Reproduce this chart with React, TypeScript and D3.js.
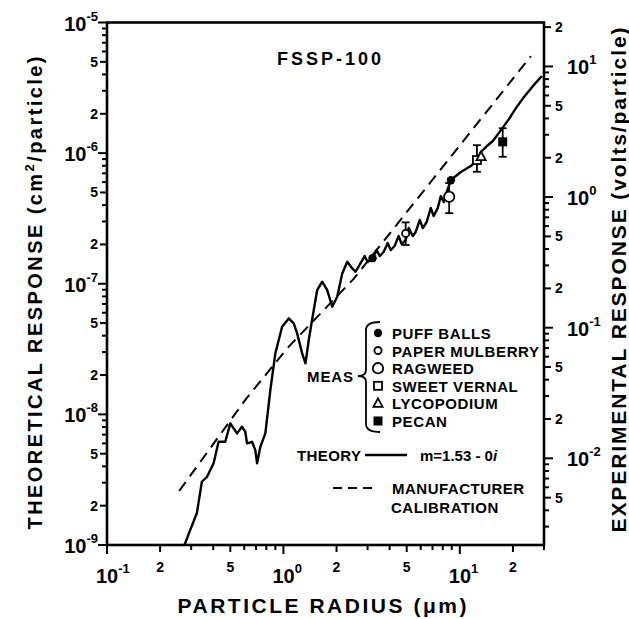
import React from 'react';
import * as d3 from 'd3';

// ---------- data ----------
const xDomain = [0.1, 30];
const leftDomain = [1e-9, 1e-5];
const rightDomain = [0.00217, 21.7];

const theoryRadius = [0.275,0.296,0.323,0.345,0.369,0.402,0.429,0.468,0.500,0.522,
  0.546,0.582,0.608,0.622,0.664,0.693,0.709,0.740,0.790,0.843,
  0.900,0.983,1.072,1.144,1.196,1.277,1.334,1.392,1.486,1.554,
  1.659,1.772,1.891,2.018,2.155,2.301,2.457,2.565,2.738,2.886,
  3.0,3.204,3.376,3.513,3.70,3.90,4.055,4.27,4.50,4.68,
  4.93,5.13,5.41,5.62,5.93,6.17,6.49,6.84,7.11,7.50,
  7.80,8.11,8.43,8.89,10.13,11.55,12.49,13.16,14.23,15.40,
  17.10,18.97,20.8,23.1,26.0,29.2];
const theoryResponse = [1.0e-9,1.30e-9,1.75e-9,3.05e-9,3.33e-9,4.22e-9,6.17e-9,6.17e-9,8.53e-9,7.81e-9,
  7.15e-9,8.04e-9,7.36e-9,6.0e-9,6.17e-9,5.33e-9,4.22e-9,5.65e-9,7.15e-9,1.53e-8,
  2.93e-8,4.69e-8,5.43e-8,4.98e-8,4.17e-8,2.93e-8,2.46e-8,3.71e-8,6.29e-8,8.95e-8,
  1.036e-7,8.95e-8,6.67e-8,7.95e-8,1.20e-7,1.474e-7,1.31e-7,1.236e-7,1.44e-7,1.63e-7,
  1.466e-7,1.574e-7,1.81e-7,1.63e-7,1.75e-7,2.05e-7,1.81e-7,1.945e-7,2.32e-7,2.01e-7,
  2.16e-7,2.67e-7,2.32e-7,2.49e-7,3.08e-7,2.67e-7,2.97e-7,3.80e-7,3.30e-7,3.80e-7,
  4.69e-7,4.22e-7,5.04e-7,6.22e-7,7.17e-7,7.96e-7,8.85e-7,1.02e-6,1.133e-6,1.238e-6,
  1.50e-6,1.82e-6,2.21e-6,2.69e-6,3.27e-6,3.89e-6];

const calibRadius = [0.2565, 0.608, 1.054, 2.50, 25.3];
const calibResponse = [2.59e-9, 1.29e-8, 3.22e-8, 1.09e-7, 5.54e-6];

const puffRadius = [3.2, 8.9];
const puffValue = [1.57e-7, 6.2e-7];
const mulberryRadius = [4.93];
const mulberryValue = [2.43e-7];
const mulberryLow = [1.98e-7];
const mulberryHigh = [2.95e-7];
const ragweedRadius = [8.7];
const ragweedValue = [4.63e-7];
const ragweedLow = [3.47e-7];
const ragweedHigh = [5.9e-7];
const vernalRadius = [12.5];
const vernalValue = [8.85e-7];
const vernalLow = [7.2e-7];
const vernalHigh = [1.15e-6];
const lycoRadius = [13.2];
const lycoValue = [9.4e-7];
const pecanRadius = [17.5];
const pecanValue = [1.22e-6];
const pecanLow = [9.37e-7];
const pecanHigh = [1.55e-6];

const xLabels: [number, string, string][] = [
  [0.1, '10', '-1'], [0.2, '2', ''], [0.5, '5', ''], [1, '10', '0'], [2, '2', ''], [5, '5', ''], [10, '10', '1'], [20, '2', '']];
const leftLabels: [number, string, string][] = [
  [1e-5, '10', '-5'], [5e-6, '5', ''], [2e-6, '2', ''], [1e-6, '10', '-6'], [5e-7, '5', ''], [2e-7, '2', ''],
  [1e-7, '10', '-7'], [5e-8, '5', ''], [2e-8, '2', ''], [1e-8, '10', '-8'], [5e-9, '5', ''], [2e-9, '2', ''], [1e-9, '10', '-9']];
const rightLabels: [number, string, string][] = [
  [20, '2', ''], [10, '10', '1'], [5, '5', ''], [2, '2', ''], [1, '10', '0'], [0.5, '5', ''], [0.2, '2', ''],
  [0.1, '10', '-1'], [0.05, '5', ''], [0.02, '2', ''], [0.01, '10', '-2'], [0.005, '5', '']];

const legendLabels = ['PUFF BALLS', 'PAPER MULBERRY', 'RAGWEED', 'SWEET VERNAL', 'LYCOPODIUM', 'PECAN'];
const legendShapes = ['filledCircle', 'smallCircle', 'circle', 'square', 'triangle', 'filledSquare'];

// ---------- layout ----------
const W = 629, H = 619;
const L = 107, R = 544, T = 22.5, B = 545;
const FONT = '"Liberation Sans", Arial, Helvetica, sans-serif';

function Marker({ shape, cx, cy }: { shape: string; cx: number; cy: number }) {
  const sw = 1.8;
  switch (shape) {
    case 'filledCircle': return <circle cx={cx} cy={cy} r={4.2} fill="#000" />;
    case 'smallCircle': return <circle cx={cx} cy={cy} r={3.6} fill="#fff" stroke="#000" strokeWidth={sw} />;
    case 'circle': return <circle cx={cx} cy={cy} r={5.2} fill="#fff" stroke="#000" strokeWidth={sw} />;
    case 'square': return <rect x={cx - 4} y={cy - 4} width={8} height={8} fill="#fff" stroke="#000" strokeWidth={sw} />;
    case 'triangle': return <path d={`M${cx},${cy - 5}L${cx + 4.6},${cy + 3.5}L${cx - 4.6},${cy + 3.5}Z`} fill="#fff" stroke="#000" strokeWidth={sw} />;
    case 'filledSquare': return <rect x={cx - 4.5} y={cy - 4.5} width={9} height={9} fill="#000" />;
  }
  return null;
}

export default function App() {
  const x = d3.scaleLog().domain(xDomain).range([L, R]);
  const yL = d3.scaleLog().domain(leftDomain).range([B, T]);
  const yR = d3.scaleLog().domain(rightDomain).range([B, T]);

  const lineGen = d3.line<[number, number]>().x(d => x(d[0])).y(d => yL(d[1]));
  const theoryPath = lineGen(theoryRadius.map((r, i) => [r, theoryResponse[i]]))!;
  const calibPath = lineGen(calibRadius.map((r, i) => [r, calibResponse[i]]))!;

  const mant = (v: number) => Math.round(v / Math.pow(10, Math.floor(Math.log10(v) + 1e-9)));
  const tickLen = (v: number) => { const m = mant(v); return m === 1 ? 9 : (m === 2 || m === 5) ? 7 : 5; };

  const xTicks = x.ticks();
  const lTicks = yL.ticks();
  const rTicks = yR.ticks();

  const errBars: { r: number; lo: number; hi: number }[] = [
    ...mulberryRadius.map((r, i) => ({ r, lo: mulberryLow[i], hi: mulberryHigh[i] })),
    ...ragweedRadius.map((r, i) => ({ r, lo: ragweedLow[i], hi: ragweedHigh[i] })),
    ...vernalRadius.map((r, i) => ({ r, lo: vernalLow[i], hi: vernalHigh[i] })),
    ...pecanRadius.map((r, i) => ({ r, lo: pecanLow[i], hi: pecanHigh[i] })),
  ];

  const points: { shape: string; r: number; v: number }[] = [
    ...mulberryRadius.map((r, i) => ({ shape: 'smallCircle', r, v: mulberryValue[i] })),
    ...ragweedRadius.map((r, i) => ({ shape: 'circle', r, v: ragweedValue[i] })),
    ...vernalRadius.map((r, i) => ({ shape: 'square', r, v: vernalValue[i] })),
    ...lycoRadius.map((r, i) => ({ shape: 'triangle', r, v: lycoValue[i] })),
    ...pecanRadius.map((r, i) => ({ shape: 'filledSquare', r, v: pecanValue[i] })),
    ...puffRadius.map((r, i) => ({ shape: 'filledCircle', r, v: puffValue[i] })),
  ];

  const legX = 378, legTextX = 392, legY0 = 333, legDy = 17.6;

  return (
    <svg width={W} height={H} style={{ position: 'absolute', left: 0, top: 0, background: '#fff' }}
      fontFamily={FONT} fontWeight="bold">
      <rect x={0} y={0} width={W} height={H} fill="#fff" />

      {/* frame */}
      <rect x={L} y={T} width={R - L} height={B - T} fill="none" stroke="#000" strokeWidth={2.6} />

      {/* bottom ticks */}
      {xTicks.map((t, i) => (
        <line key={'xt' + i} x1={x(t)} x2={x(t)} y1={B} y2={B + tickLen(t)} stroke="#000" strokeWidth={2} />
      ))}
      {xLabels.map(([v, base, exp], i) => exp ? (
        <text key={'xl' + i} x={x(v) - 11} y={583} fontSize={20}>
          {base}<tspan fontSize={13} dy={-10}>{exp}</tspan>
        </text>
      ) : (
        <text key={'xl' + i} x={x(v)} y={572} fontSize={14} textAnchor="middle">{base}</text>
      ))}

      {/* left ticks */}
      {lTicks.map((t, i) => (
        <line key={'lt' + i} x1={L - tickLen(t)} x2={L} y1={yL(t)} y2={yL(t)} stroke="#000" strokeWidth={2} />
      ))}
      {leftLabels.map(([v, base, exp], i) => exp ? (
        <text key={'ll' + i} x={98} y={yL(v) + 8} fontSize={20} textAnchor="end">
          {base}<tspan fontSize={13} dy={-10}>{exp}</tspan>
        </text>
      ) : (
        <text key={'ll' + i} x={98} y={yL(v) + 5} fontSize={14} textAnchor="end">{base}</text>
      ))}

      {/* right ticks */}
      {rTicks.map((t, i) => (
        <line key={'rt' + i} x1={R} x2={R + tickLen(t)} y1={yR(t)} y2={yR(t)} stroke="#000" strokeWidth={2} />
      ))}
      {rightLabels.map(([v, base, exp], i) => exp ? (
        <text key={'rl' + i} x={567} y={yR(v) + 8} fontSize={20}>
          {base}<tspan fontSize={13} dy={-10}>{exp}</tspan>
        </text>
      ) : (
        <text key={'rl' + i} x={555} y={yR(v) + 5} fontSize={14}>{base}</text>
      ))}

      {/* axis titles */}
      <text x={322} y={613} fontSize={21} textAnchor="middle" textLength={289} lengthAdjust="spacing">
        PARTICLE RADIUS (μm)
      </text>
      <text transform="translate(42,293) rotate(-90)" fontSize={20} textAnchor="middle" textLength={473} lengthAdjust="spacing">
        THEORETICAL RESPONSE (cm<tspan fontSize={13} dy={-8}>2</tspan><tspan dy={8}>/particle)</tspan>
      </text>
      <text transform="translate(626,280) rotate(-90)" fontSize={21} textAnchor="middle" textLength={505} lengthAdjust="spacing">
        EXPERIMENTAL RESPONSE (volts/particle)
      </text>

      {/* chart title */}
      <text x={277} y={65} fontSize={18} textLength={104} lengthAdjust="spacing">FSSP-100</text>

      {/* curves */}
      <path d={calibPath} fill="none" stroke="#000" strokeWidth={2} strokeDasharray="11 7" />
      <path d={theoryPath} fill="none" stroke="#000" strokeWidth={2.4} strokeLinejoin="round" />

      {/* error bars */}
      {errBars.map((e, i) => (
        <g key={'eb' + i} stroke="#000" strokeWidth={1.8}>
          <line x1={x(e.r)} x2={x(e.r)} y1={yL(e.lo)} y2={yL(e.hi)} />
          <line x1={x(e.r) - 4} x2={x(e.r) + 4} y1={yL(e.lo)} y2={yL(e.lo)} />
          <line x1={x(e.r) - 4} x2={x(e.r) + 4} y1={yL(e.hi)} y2={yL(e.hi)} />
        </g>
      ))}
      {points.map((p, i) => <Marker key={'pt' + i} shape={p.shape} cx={x(p.r)} cy={yL(p.v)} />)}

      {/* legend */}
      <text x={307} y={382} fontSize={15} textLength={46} lengthAdjust="spacing">MEAS</text>
      <path d="M380,322 Q366,322 366,330 L366,370 Q366,376 358,376 Q366,376 366,382 L366,424 Q366,432 380,432"
        fill="none" stroke="#000" strokeWidth={1.8} />
      {legendLabels.map((lab, i) => (
        <g key={'lg' + i}>
          <Marker shape={legendShapes[i]} cx={legX} cy={legY0 + i * legDy} />
          <text x={legTextX} y={legY0 + i * legDy + 6} fontSize={15} letterSpacing={0.6}>{lab}</text>
        </g>
      ))}
      <text x={297} y={461} fontSize={15} letterSpacing={0.4}>THEORY</text>
      <line x1={365} x2={407} y1={455} y2={455} stroke="#000" strokeWidth={2.4} />
      <text x={420} y={461} fontSize={15}>m=1.53 - 0<tspan fontStyle="italic">i</tspan></text>
      <line x1={333} x2={378} y1={488} y2={488} stroke="#000" strokeWidth={2} strokeDasharray="9 6" />
      <text x={392} y={494} fontSize={15} letterSpacing={0.5}>MANUFACTURER</text>
      <text x={391} y={513} fontSize={15} letterSpacing={0.5}>CALIBRATION</text>
    </svg>
  );
}
